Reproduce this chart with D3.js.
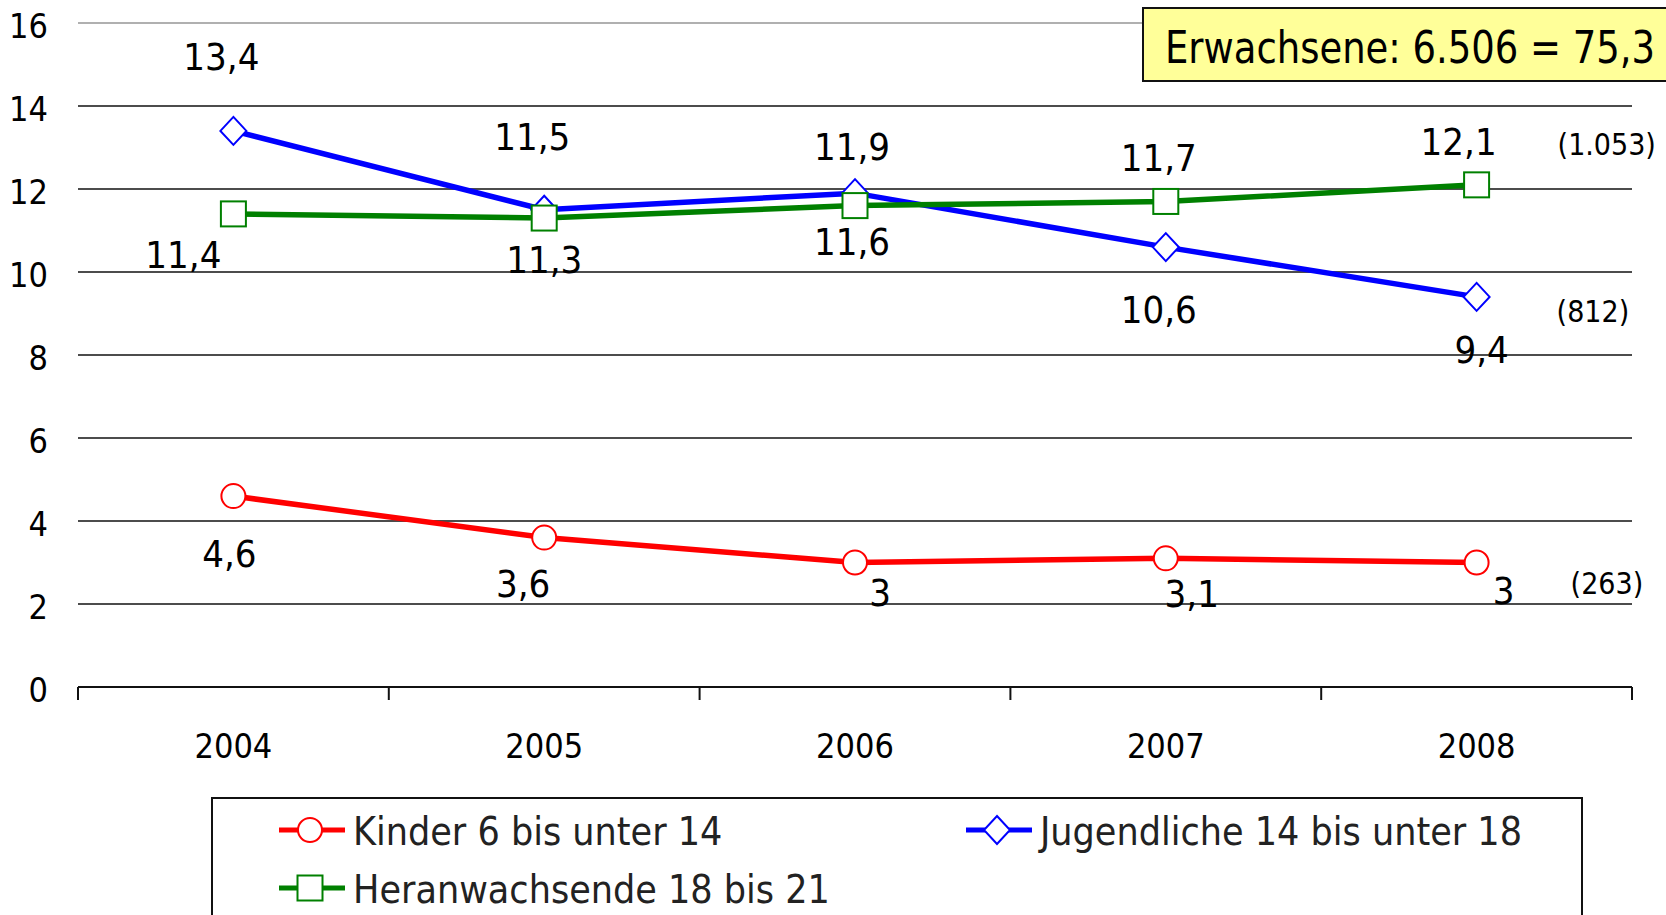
<!DOCTYPE html>
<html>
<head>
<meta charset="utf-8">
<script src="https://cdn.jsdelivr.net/npm/d3@7"></script>
<style>
	body { margin: 0; background: white; }
	text { font-family: "DejaVu Sans Condensed", "DejaVu Sans", sans-serif; font-stretch: condensed; }
</style>
</head>
<body>
<script>
var years = ['2004', '2005', '2006', '2007', '2008']
var yTicks = [0, 2, 4, 6, 8, 10, 12, 14, 16]

var kinder = [4.6, 3.6, 3.0, 3.1, 3.0]
var jugendliche = [13.4, 11.5, 11.9, 10.6, 9.4]
var heranwachsende = [11.4, 11.3, 11.6, 11.7, 12.1]

var seriesNames = ['Kinder 6 bis unter 14', 'Jugendliche 14 bis unter 18', 'Heranwachsende 18 bis 21']
var counts = ['(263)', '(812)', '(1.053)']
var note = 'Erwachsene: 6.506 = 75,3'

// label offsets from the point (dx, dy to baseline)
var labelOffsets = [
	[[-4, 71], [-21, 59], [25, 43], [26, 49], [27, 41]],
	[[-12, -61], [-12, -60], [-3, -33], [-7, 76], [5, 66]],
	[[-50, 54], [0, 55], [-3, 49], [-7, -30], [-18, -30]]
]
var countOffsets = [[94, 31], [80, 25], [81, -30]]

var width = 1666,
	height = 915

var svg = d3.select('body').append('svg')
	.attr('width', width)
	.attr('height', height)

var x = d3.scaleBand()
	.domain(years)
	.range([78, 1632])
	.padding(0)

var y = d3.scaleLinear()
	.domain([0, 16])
	.range([687, 23])

var cx = d => x(d) + x.bandwidth() / 2

var series = [
	{name: seriesNames[0], values: kinder, color: '#FF0000', shape: 'circle'},
	{name: seriesNames[1], values: jugendliche, color: '#0000FF', shape: 'diamond'},
	{name: seriesNames[2], values: heranwachsende, color: '#008000', shape: 'square'}
]

// gridlines
svg.selectAll('.grid')
	.data(yTicks.filter(d => d > 0))
	.enter()
	.append('line')
		.attr('x1', 78)
		.attr('x2', 1632)
		.attr('y1', d => y(d))
		.attr('y2', d => y(d))
		.attr('stroke', d => d == 16 ? '#b0b0b0' : '#111')
		.attr('stroke-width', d => d == 16 ? 2 : 1.6)

// y labels
svg.selectAll('.ylab')
	.data(yTicks)
	.enter()
	.append('text')
		.attr('x', 48)
		.attr('y', d => y(d) + 15)
		.attr('text-anchor', 'end')
		.style('font-size', '34px')
		.text(d => d)

// x axis
var xAxis = svg.append('g')
	.attr('transform', 'translate(0,' + y(0) + ')')

xAxis.append('line')
	.attr('x1', 78)
	.attr('x2', 1632)
	.attr('stroke', '#111')
	.attr('stroke-width', 2)

xAxis.selectAll('.tick')
	.data(years.concat(['end']))
	.enter()
	.append('line')
		.attr('x1', d => d == 'end' ? x.range()[1] : x(d))
		.attr('x2', d => d == 'end' ? x.range()[1] : x(d))
		.attr('y1', 0)
		.attr('y2', 13)
		.attr('stroke', '#111')
		.attr('stroke-width', 2)

xAxis.selectAll('.xlab')
	.data(years)
	.enter()
	.append('text')
		.attr('x', d => cx(d))
		.attr('y', 71)
		.attr('text-anchor', 'middle')
		.style('font-size', '34px')
		.text(d => d)

// note box
svg.append('rect')
	.attr('x', 1143)
	.attr('y', 8)
	.attr('width', 600)
	.attr('height', 73)
	.attr('fill', '#FFFF99')
	.attr('stroke', '#111')
	.attr('stroke-width', 2)

svg.append('text')
	.attr('x', 1165)
	.attr('y', 63)
	.attr('textLength', 490)
	.attr('lengthAdjust', 'spacingAndGlyphs')
	.style('font-size', '44px')
	.text(note)

function marker(g, shape, color, px, py) {
	if (shape == 'circle') {
		g.append('circle')
			.attr('cx', px).attr('cy', py).attr('r', 12)
			.attr('fill', 'white').attr('stroke', color).attr('stroke-width', 2)
	} else if (shape == 'diamond') {
		g.append('path')
			.attr('d', 'M' + px + ',' + (py - 14) + 'L' + (px + 13) + ',' + py + 'L' + px + ',' + (py + 14) + 'L' + (px - 13) + ',' + py + 'Z')
			.attr('fill', 'white').attr('stroke', color).attr('stroke-width', 2)
	} else {
		g.append('rect')
			.attr('x', px - 12.5).attr('y', py - 12.5).attr('width', 25).attr('height', 25)
			.attr('fill', 'white').attr('stroke', color).attr('stroke-width', 2)
	}
}

var line = d3.line()
	.x((d, i) => cx(years[i]))
	.y(d => y(d))

series.forEach(function (s, si) {
	var g = svg.append('g')
	g.append('path')
		.attr('d', line(s.values))
		.attr('fill', 'none')
		.attr('stroke', s.color)
		.attr('stroke-width', 5.5)
	s.values.forEach(function (v, i) {
		marker(g, s.shape, s.color, cx(years[i]), y(v))
	})
})

// data labels
series.forEach(function (s, si) {
	svg.selectAll('.lab' + si)
		.data(s.values)
		.enter()
		.append('text')
			.attr('x', (d, i) => cx(years[i]) + labelOffsets[si][i][0])
			.attr('y', (d, i) => y(d) + labelOffsets[si][i][1])
			.attr('text-anchor', 'middle')
			.style('font-size', '38px')
			.text(d => String(d).replace('.', ','))

	var last = s.values.length - 1
	svg.append('text')
		.attr('x', cx(years[last]) + countOffsets[si][0])
		.attr('y', y(s.values[last]) + countOffsets[si][1])
		.style('font-size', '30px')
		.text(counts[si])
})

// legend
svg.append('rect')
	.attr('x', 212)
	.attr('y', 798)
	.attr('width', 1370)
	.attr('height', 140)
	.attr('fill', 'white')
	.attr('stroke', '#111')
	.attr('stroke-width', 2)

var legendPos = [[279, 830], [966, 830], [279, 888]]

series.forEach(function (s, si) {
	var lx = legendPos[si][0], ly = legendPos[si][1]
	svg.append('line')
		.attr('x1', lx)
		.attr('x2', lx + 66)
		.attr('y1', ly)
		.attr('y2', ly)
		.attr('stroke', s.color)
		.attr('stroke-width', 5)
	marker(svg, s.shape, s.color, lx + 31, ly)
	svg.append('text')
		.attr('x', lx + 74)
		.attr('y', ly + 15)
		.style('font-size', '39px')
		.style('fill', '#222')
		.text(s.name)
})
</script>
</body>
</html>
